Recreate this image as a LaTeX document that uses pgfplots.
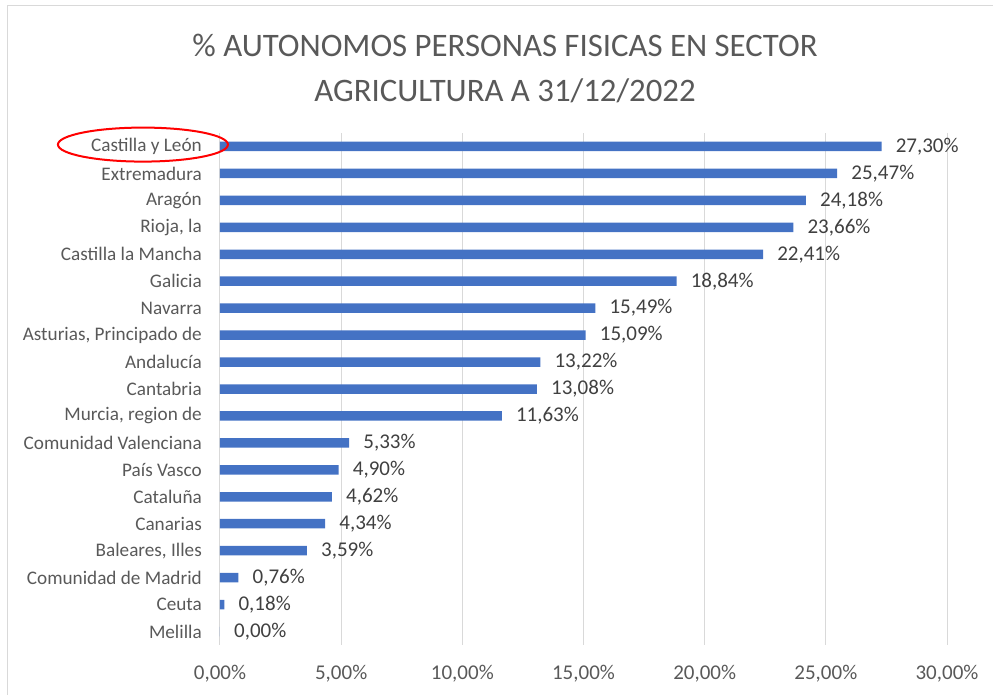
\documentclass[border=0pt]{standalone}
\usepackage{pgfplots}
\pgfplotsset{compat=1.18}
\usepackage{fontspec}
\setmainfont{Carlito}
\definecolor{barblue}{HTML}{4472C4}
\definecolor{txtgray}{HTML}{595959}
\definecolor{lblgray}{HTML}{404040}
\definecolor{gridgray}{HTML}{D9D9D9}
\definecolor{framegray}{HTML}{D9D9D9}
\begin{document}
\begin{tikzpicture}
\path[use as bounding box] (-220bp,-50bp) rectangle (773bp,645bp);
\draw[framegray, line width=1bp] (-212bp,-60bp) -- (-212bp,639bp) -- (790bp,639bp);
\node[anchor=base, text=txtgray, font=\fontsize{32.8bp}{38bp}\selectfont] at (285bp,588bp) {\% AUTONOMOS PERSONAS FISICAS EN SECTOR};
\node[anchor=base, text=txtgray, font=\fontsize{32.8bp}{38bp}\selectfont] at (285bp,543bp) {AGRICULTURA A 31/12/2022};
\begin{axis}[
  at={(0,0)}, anchor=south west,
  scale only axis, width=727bp, height=512bp,
  xbar, bar width=9.5bp,
  xmin=0, xmax=30, ymin=-0.5, ymax=18.5,
  y dir=reverse,
  clip=false,
  axis line style={draw=none},
  major tick length=0pt,
  xtick={0,5,10,15,20,25,30},
  xmajorgrids, grid style={gridgray, line width=1bp},
  ytick={0,...,18},
  yticklabels={Castilla y León, Extremadura, Aragón, {Rioja, la}, Castilla la Mancha, Galicia, Navarra, {Asturias, Principado de}, Andalucía, Cantabria, {Murcia, region de}, Comunidad Valenciana, País Vasco, Cataluña, Canarias, {Baleares, Illes}, Comunidad de Madrid, Ceuta, Melilla},
  /pgf/number format/assume math mode=true,
  xticklabel={\pgfmathprintnumber[fixed,fixed zerofill,precision=2,use comma]{\tick}\%},
  xticklabel style={inner sep=0pt, text=txtgray, font=\fontsize{21bp}{24bp}\selectfont, anchor=north, yshift=-20bp},
  yticklabel style={inner sep=0pt, text=txtgray, font=\fontsize{19.2bp}{22bp}\selectfont, anchor=east, xshift=-18bp},
  point meta=x,
  nodes near coords={\pgfmathprintnumber[fixed,fixed zerofill,precision=2,use comma]{\pgfplotspointmeta}\%},
  nodes near coords style={anchor=west, inner sep=0pt, xshift=14bp, text=lblgray, font=\fontsize{21bp}{24bp}\selectfont},
]
\addplot[fill=barblue, draw=none] coordinates {
(27.30,0) (25.47,1) (24.18,2) (23.66,3) (22.41,4) (18.84,5) (15.49,6) (15.09,7) (13.22,8) (13.08,9) (11.63,10) (5.33,11) (4.90,12) (4.62,13) (4.34,14) (3.59,15) (0.76,16) (0.18,17) (0.00,18)
};
\draw[red, line width=2bp] (axis cs:-3.18,-0.07) ellipse [x radius=85bp, y radius=17bp];
\end{axis}
\end{tikzpicture}
\end{document}
